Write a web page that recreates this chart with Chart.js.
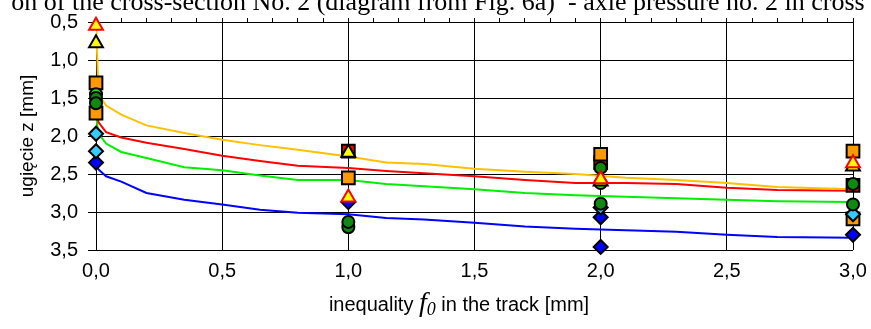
<!DOCTYPE html>
<html lang="pl">
<head>
    <meta charset="UTF-8">
    <title>ugięcie z</title>
    <script src="https://cdn.jsdelivr.net/npm/chart.js"></script>
    <style>
        body { margin: 0; background: #fff; }
        #wrap { width: 871px; height: 329px; position: relative; }
    </style>
</head>
<body>
    <div id="wrap"><canvas id="chart"></canvas></div>
    <script>
        // x positions of the curve readings and the measured points
        const curveX = [0, 0.01, 0.04, 0.1, 0.2, 0.35, 0.5, 0.65, 0.8, 1.0, 1.15, 1.3, 1.5, 1.7, 1.9, 2.1, 2.3, 2.5, 2.7, 3.0];
        const yellowCurve = [0.5, 1.45, 1.6, 1.72, 1.86, 1.96, 2.05, 2.12, 2.18, 2.27, 2.35, 2.37, 2.43, 2.47, 2.5, 2.55, 2.58, 2.62, 2.67, 2.7];
        const redCurve = [1.65, 1.82, 1.95, 2.02, 2.09, 2.17, 2.26, 2.33, 2.39, 2.42, 2.46, 2.49, 2.53, 2.58, 2.62, 2.62, 2.63, 2.68, 2.71, 2.72];
        const greenCurve = [1.75, 1.97, 2.1, 2.21, 2.29, 2.41, 2.45, 2.52, 2.58, 2.58, 2.63, 2.66, 2.7, 2.75, 2.78, 2.8, 2.82, 2.84, 2.86, 2.87];
        const blueCurve = [2.37, 2.44, 2.53, 2.6, 2.75, 2.84, 2.9, 2.97, 3.01, 3.03, 3.08, 3.1, 3.14, 3.19, 3.22, 3.24, 3.26, 3.3, 3.33, 3.34];

        const markerX = [0, 1, 2, 3];
        const triRed = [0.55, 2.81, 2.57, 2.36];
        const triBlack = [0.78, 2.22, 2.6, 2.4];
        const circDark1 = [1.57, 3.13, 2.42, 2.63];
        const circDark2 = [1.5, 3.2, 2.89, 2.9];
        const circLight = [1.45, null, 2.62, null];
        const diaCyan1 = [1.97, null, 2.94, 3.03];
        const diaCyan2 = [2.2, null, null, null];
        const diaBlue1 = [2.35, 2.87, 3.07, 3.3];
        const diaBlue2 = [null, null, 3.46, null];
        const sqOrange1 = [1.3, 2.55, 2.24, 2.2];
        const sqOrange2 = [1.7, null, null, 3.09];
        const sqRed = [null, 2.2, 2.35, 2.65];

        const yTickValues = [0.5, 1, 1.5, 2, 2.5, 3, 3.5];
        const yTicks = ['0,5', '1,0', '1,5', '2,0', '2,5', '3,0', '3,5'];
        const xTickValues = [0, 0.5, 1, 1.5, 2, 2.5, 3];
        const xTicks = ['0,0', '0,5', '1,0', '1,5', '2,0', '2,5', '3,0'];

        function toPoints(xs, ys) {
            const pts = [];
            ys.forEach((y, i) => { if (y !== null) pts.push({ x: xs[i], y: y }); });
            return pts;
        }

        function markers(ys, style, fill, border, radius) {
            return {
                data: toPoints(markerX, ys),
                showLine: false,
                clip: false,
                pointStyle: style,
                pointRadius: radius,
                pointBackgroundColor: fill,
                pointBorderColor: border,
                pointBorderWidth: 2
            };
        }

        function curve(ys, color) {
            return {
                data: toPoints(curveX, ys),
                showLine: true,
                borderColor: color,
                borderWidth: 2,
                pointRadius: 0,
                tension: 0
            };
        }

        const sansFont = '"Liberation Sans", Arial, sans-serif';

        // clipped caption at the top and the mixed-font x title
        const textPlugin = {
            id: 'texts',
            afterDraw(chart) {
                const ctx = chart.ctx;
                ctx.save();
                ctx.fillStyle = '#000';
                ctx.font = '26px "Liberation Serif", serif';
                ctx.textAlign = 'center';
                ctx.textBaseline = 'alphabetic';
                ctx.fillText('on of the cross-section No. 2 (diagram from Fig. 6a)  - axle pressure no. 2 in cross', 438, 10);

                const parts = [
                    { t: 'inequality ', f: '20px ' + sansFont, dy: 0 },
                    { t: 'f', f: 'italic 28px "Liberation Serif", serif', dy: 0 },
                    { t: '0', f: 'italic 18px "Liberation Serif", serif', dy: 4 },
                    { t: ' in the track [mm]', f: '20px ' + sansFont, dy: 0 }
                ];
                let total = 0;
                parts.forEach(p => { ctx.font = p.f; p.w = ctx.measureText(p.t).width; total += p.w; });
                let x = 459 - total / 2;
                ctx.textAlign = 'left';
                parts.forEach(p => {
                    ctx.font = p.f;
                    ctx.fillText(p.t, x, 311 + p.dy);
                    x += p.w;
                });
                ctx.restore();
            }
        };

        new Chart(document.getElementById('chart'), {
            type: 'scatter',
            data: {
                datasets: [
                    markers(triRed, 'triangle', '#FFFF00', '#FF0000', 8),
                    markers(triBlack, 'triangle', '#FFFF00', '#000000', 8),
                    markers(circDark1, 'circle', '#118811', '#000000', 6),
                    markers(circDark2, 'circle', '#118811', '#000000', 6),
                    markers(circLight, 'circle', '#22DD22', '#000000', 6),
                    markers(diaCyan1, 'rectRot', '#33CCFF', '#000000', 7),
                    markers(diaCyan2, 'rectRot', '#33CCFF', '#000000', 7),
                    markers(diaBlue1, 'rectRot', '#0000FF', '#000000', 7),
                    markers(diaBlue2, 'rectRot', '#0000FF', '#000000', 7),
                    markers(sqOrange1, 'rect', '#FF9900', '#000000', 9),
                    markers(sqOrange2, 'rect', '#FF9900', '#000000', 9),
                    markers(sqRed, 'rect', '#FF0000', '#000000', 9),
                    curve(yellowCurve, '#FFC000'),
                    curve(redCurve, '#FF0000'),
                    curve(greenCurve, '#00EE00'),
                    curve(blueCurve, '#0000FF')
                ]
            },
            options: {
                responsive: true,
                maintainAspectRatio: false,
                animation: false,
                layout: { padding: { top: 17, right: 18, bottom: 0, left: 0 } },
                plugins: {
                    legend: { display: false },
                    tooltip: { enabled: false }
                },
                scales: {
                    x: {
                        type: 'linear',
                        position: 'bottom',
                        min: 0,
                        max: 3,
                        afterFit(scale) {
                            scale.height = 79;
                            scale.paddingLeft = 0;
                            scale.paddingRight = 0;
                        },
                        ticks: {
                            stepSize: 0.5,
                            padding: 9,
                            color: '#000',
                            font: { family: sansFont, size: 20 },
                            callback: v => xTicks[xTickValues.indexOf(v)]
                        },
                        grid: { color: '#000', borderDash: [1, 1], lineWidth: 1, drawTicks: false },
                        border: { display: false }
                    },
                    xTop: {
                        type: 'linear',
                        position: 'top',
                        min: 0,
                        max: 3,
                        afterFit(scale) {
                            scale.paddingLeft = 0;
                            scale.paddingRight = 0;
                        },
                        ticks: { display: false, stepSize: 0.1 },
                        grid: { drawOnChartArea: false, tickLength: 4, color: '#000' },
                        border: { color: '#000', width: 1 }
                    },
                    y: {
                        type: 'linear',
                        reverse: true,
                        min: 0.5,
                        max: 3.5,
                        afterFit(scale) { scale.width = 96; },
                        ticks: {
                            stepSize: 0.5,
                            padding: 10,
                            color: '#000',
                            font: { family: sansFont, size: 20 },
                            callback: v => yTicks[yTickValues.indexOf(v)]
                        },
                        grid: { color: '#000', borderDash: [1, 1], lineWidth: 1, tickLength: 8, tickColor: '#000', tickBorderDash: [] },
                        border: { color: '#000', width: 1 },
                        title: {
                            display: true,
                            text: 'ugięcie z [mm]',
                            color: '#000',
                            font: { family: sansFont, size: 19 },
                            padding: { top: 16, bottom: 0 }
                        }
                    }
                }
            },
            plugins: [textPlugin]
        });
    </script>
</body>
</html>
